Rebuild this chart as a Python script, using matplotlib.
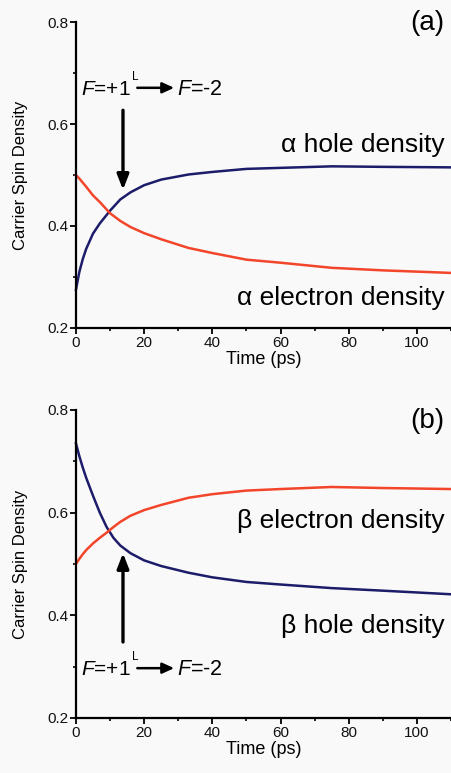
import matplotlib
matplotlib.use("Agg")
import matplotlib.pyplot as plt
from matplotlib.ticker import MultipleLocator

plt.rcParams['font.family'] = ['Liberation Sans', 'DejaVu Sans']
plt.rcParams['mathtext.fontset'] = 'custom'
plt.rcParams['mathtext.rm'] = 'Liberation Sans'
plt.rcParams['mathtext.it'] = 'Liberation Sans:italic'

# ---- data ----
t_a = [0, 1, 2, 3, 5, 7, 10, 13, 16, 20, 25, 33, 40, 50, 60, 75, 90, 110]
hole_a = [0.275, 0.31, 0.335, 0.355, 0.385, 0.405, 0.43, 0.452, 0.466, 0.48,
          0.491, 0.501, 0.506, 0.512, 0.514, 0.517, 0.516, 0.515]
elec_a = [0.50, 0.493, 0.485, 0.477, 0.46, 0.447, 0.425, 0.41, 0.398, 0.386,
          0.374, 0.357, 0.347, 0.334, 0.328, 0.318, 0.313, 0.308]

t_b = [0, 1, 2, 3, 5, 7, 9, 11, 13, 16, 20, 25, 33, 40, 50, 60, 75, 90, 110]
hole_b = [0.735, 0.71, 0.688, 0.668, 0.633, 0.600, 0.572, 0.551, 0.536, 0.521,
          0.507, 0.496, 0.483, 0.474, 0.465, 0.46, 0.453, 0.448, 0.441]
elec_b = [0.50, 0.51, 0.519, 0.527, 0.54, 0.551, 0.561, 0.572, 0.582, 0.594,
          0.605, 0.615, 0.629, 0.636, 0.643, 0.646, 0.650, 0.648, 0.646]

yticks = [0.2, 0.4, 0.6, 0.8]
xticks = [0, 20, 40, 60, 80, 100]

blue = '#1c1c6a'
red = '#f2452a'
bg = '#f9f9f9'

fig = plt.figure(figsize=(4.52, 7.73), dpi=100, facecolor=bg)
ax1 = fig.add_axes([0.168, 0.5757, 0.832, 0.3958], facecolor=bg)
ax2 = fig.add_axes([0.168, 0.0712, 0.832, 0.3984], facecolor=bg)

for ax in (ax1, ax2):
    ax.set_xlim(0, 110.3)
    ax.set_ylim(0.2, 0.8)
    ax.set_xticks(xticks)
    ax.set_yticks(yticks)
    ax.set_yticklabels([f'{v:.1f}' for v in yticks])
    ax.xaxis.set_minor_locator(MultipleLocator(10))
    ax.yaxis.set_minor_locator(MultipleLocator(0.1))
    ax.spines['top'].set_visible(False)
    ax.spines['right'].set_visible(False)
    for s in ('left', 'bottom'):
        ax.spines[s].set_linewidth(1.6)
    ax.tick_params(which='major', direction='out', length=4, width=1.4,
                   labelsize=11, pad=1.5, colors='#111111')
    ax.tick_params(which='minor', direction='out', length=2.5, width=1.2)
    ax.set_xlabel('Time (ps)', fontsize=13, labelpad=1)
    ax.set_ylabel('Carrier Spin Density', fontsize=12, labelpad=14)

ax1.plot(t_a, hole_a, color=blue, lw=1.8, clip_on=False)
ax1.plot(t_a, elec_a, color=red, lw=1.8, clip_on=False)
ax2.plot(t_b, hole_b, color=blue, lw=1.8, clip_on=False)
ax2.plot(t_b, elec_b, color=red, lw=1.8, clip_on=False)

arrow_style = dict(arrowstyle='-|>,head_length=0.9,head_width=0.35',
                   color='black', lw=2.4, shrinkA=0, shrinkB=0)
small_arrow = dict(arrowstyle='-|>,head_length=0.7,head_width=0.32',
                   color='black', lw=1.8, shrinkA=0, shrinkB=0)


def transition_label(ax, yb):
    ax.text(1.6, yb, r'$\mathit{F}$=+1', fontsize=15, ha='left', va='baseline')
    ax.text(16.4, yb + 0.03, 'L', fontsize=8.5, ha='left', va='baseline')
    ax.annotate('', xy=(28.8, yb + 0.014), xytext=(18.0, yb + 0.014),
                arrowprops=small_arrow)
    ax.text(29.6, yb, r'$\mathit{F}$=-2', fontsize=15.5, ha='left', va='baseline')


# panel (a)
transition_label(ax1, 0.657)
ax1.annotate('', xy=(13.8, 0.471), xytext=(13.8, 0.627), arrowprops=arrow_style)
ax1.text(108.2, 0.545, 'α hole density', fontsize=19, ha='right', va='baseline')
ax1.text(108.2, 0.245, 'α electron density', fontsize=19, ha='right', va='baseline')
ax1.text(108.2, 0.784, '(a)', fontsize=20, ha='right', va='baseline')

# panel (b)
transition_label(ax2, 0.283)
ax2.annotate('', xy=(13.8, 0.521), xytext=(13.8, 0.348), arrowprops=arrow_style)
ax2.text(108.2, 0.570, 'β electron density', fontsize=19, ha='right', va='baseline')
ax2.text(108.2, 0.365, 'β hole density', fontsize=19, ha='right', va='baseline')
ax2.text(108.2, 0.765, '(b)', fontsize=20, ha='right', va='baseline')

fig.savefig('out.png', dpi=100, facecolor=bg)
